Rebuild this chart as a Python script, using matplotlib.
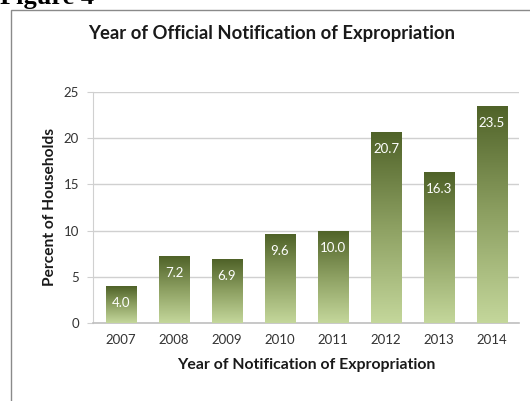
import matplotlib
matplotlib.use("Agg")
import matplotlib.pyplot as plt
import numpy as np
from matplotlib.patches import Rectangle
from matplotlib.colors import LinearSegmentedColormap

years = ["2007", "2008", "2009", "2010", "2011", "2012", "2013", "2014"]
values = [4.0, 7.2, 6.9, 9.6, 10.0, 20.7, 16.3, 23.5]
yticks = [0, 5, 10, 15, 20, 25]

plt.rcParams['font.family'] = ['Lato', 'DejaVu Sans']

fig = plt.figure(figsize=(5.30, 4.01), dpi=100)
ax = fig.add_axes([93/530, 1-323/401, 426/530, 231/401])

# outer chart border (left and top visible)
fig.patches.append(Rectangle((11/530, -0.05), 1.2, 1-10/401+0.05, transform=fig.transFigure,
                             fill=False, edgecolor='#8a8a8a', linewidth=1.0))
fig.text(0/530, 1-4/401, "Figure 4", fontsize=19, fontweight='bold',
         family='Liberation Serif', va='baseline', ha='left', color='black')

cmap = LinearSegmentedColormap.from_list('g', ['#c4d79b', '#8da062', '#4f6228'])
grad = np.linspace(0, 1, 256).reshape(-1, 1)
width = 0.57
x = np.arange(len(years))
bars = ax.bar(x, values, width=width, color='none', edgecolor='none', zorder=3)
for b, v in zip(bars, values):
    x0 = b.get_x()
    im = ax.imshow(grad, extent=(x0, x0 + width, 0, v), origin='lower', cmap=cmap,
                   aspect='auto', zorder=3, interpolation='bilinear')
    im.set_clip_path(b)
    ax.annotate(f"{v:.1f}", (b.get_x() + width/2, v), xytext=(0, -17), textcoords='offset pixels',
                ha='center', va='center', color='white', fontsize=9.5, zorder=4)

ax.set_xlim(-0.53, 7.51)
ax.set_ylim(0, 25)
ax.set_yticks(yticks)
ax.set_xticks(x)
ax.set_xticklabels(years)
ax.grid(axis='y', color='#d0d0d0', linewidth=1.0, zorder=0)
ax.set_axisbelow(True)
for s in ['top', 'right']:
    ax.spines[s].set_visible(False)
ax.spines['left'].set_color('#d0d0d0')
ax.spines['bottom'].set_color('#bfbfbf')
ax.spines['bottom'].set_linewidth(1.2)
ax.tick_params(axis='y', length=4, color='#d0d0d0', labelsize=9.5, labelcolor='#333333', pad=6)
ax.tick_params(axis='x', length=0, labelsize=9.5, labelcolor='#333333', pad=8)

fig.text(272/530, 1-33/401, "Year of Official Notification of Expropriation", ha='center', va='center',
         fontsize=13.3, fontweight='bold', color='#1a1a1a')
fig.text(306/530, 1-365/401, "Year of Notification of Expropriation", ha='center', va='center',
         fontsize=11.4, fontweight='bold', color='#1a1a1a')
fig.text(50/530, 1-207/401, "Percent of Households", ha='center', va='center', rotation=90,
         fontsize=11.2, fontweight='bold', color='#1a1a1a')

fig.savefig("out.png", dpi=100)
